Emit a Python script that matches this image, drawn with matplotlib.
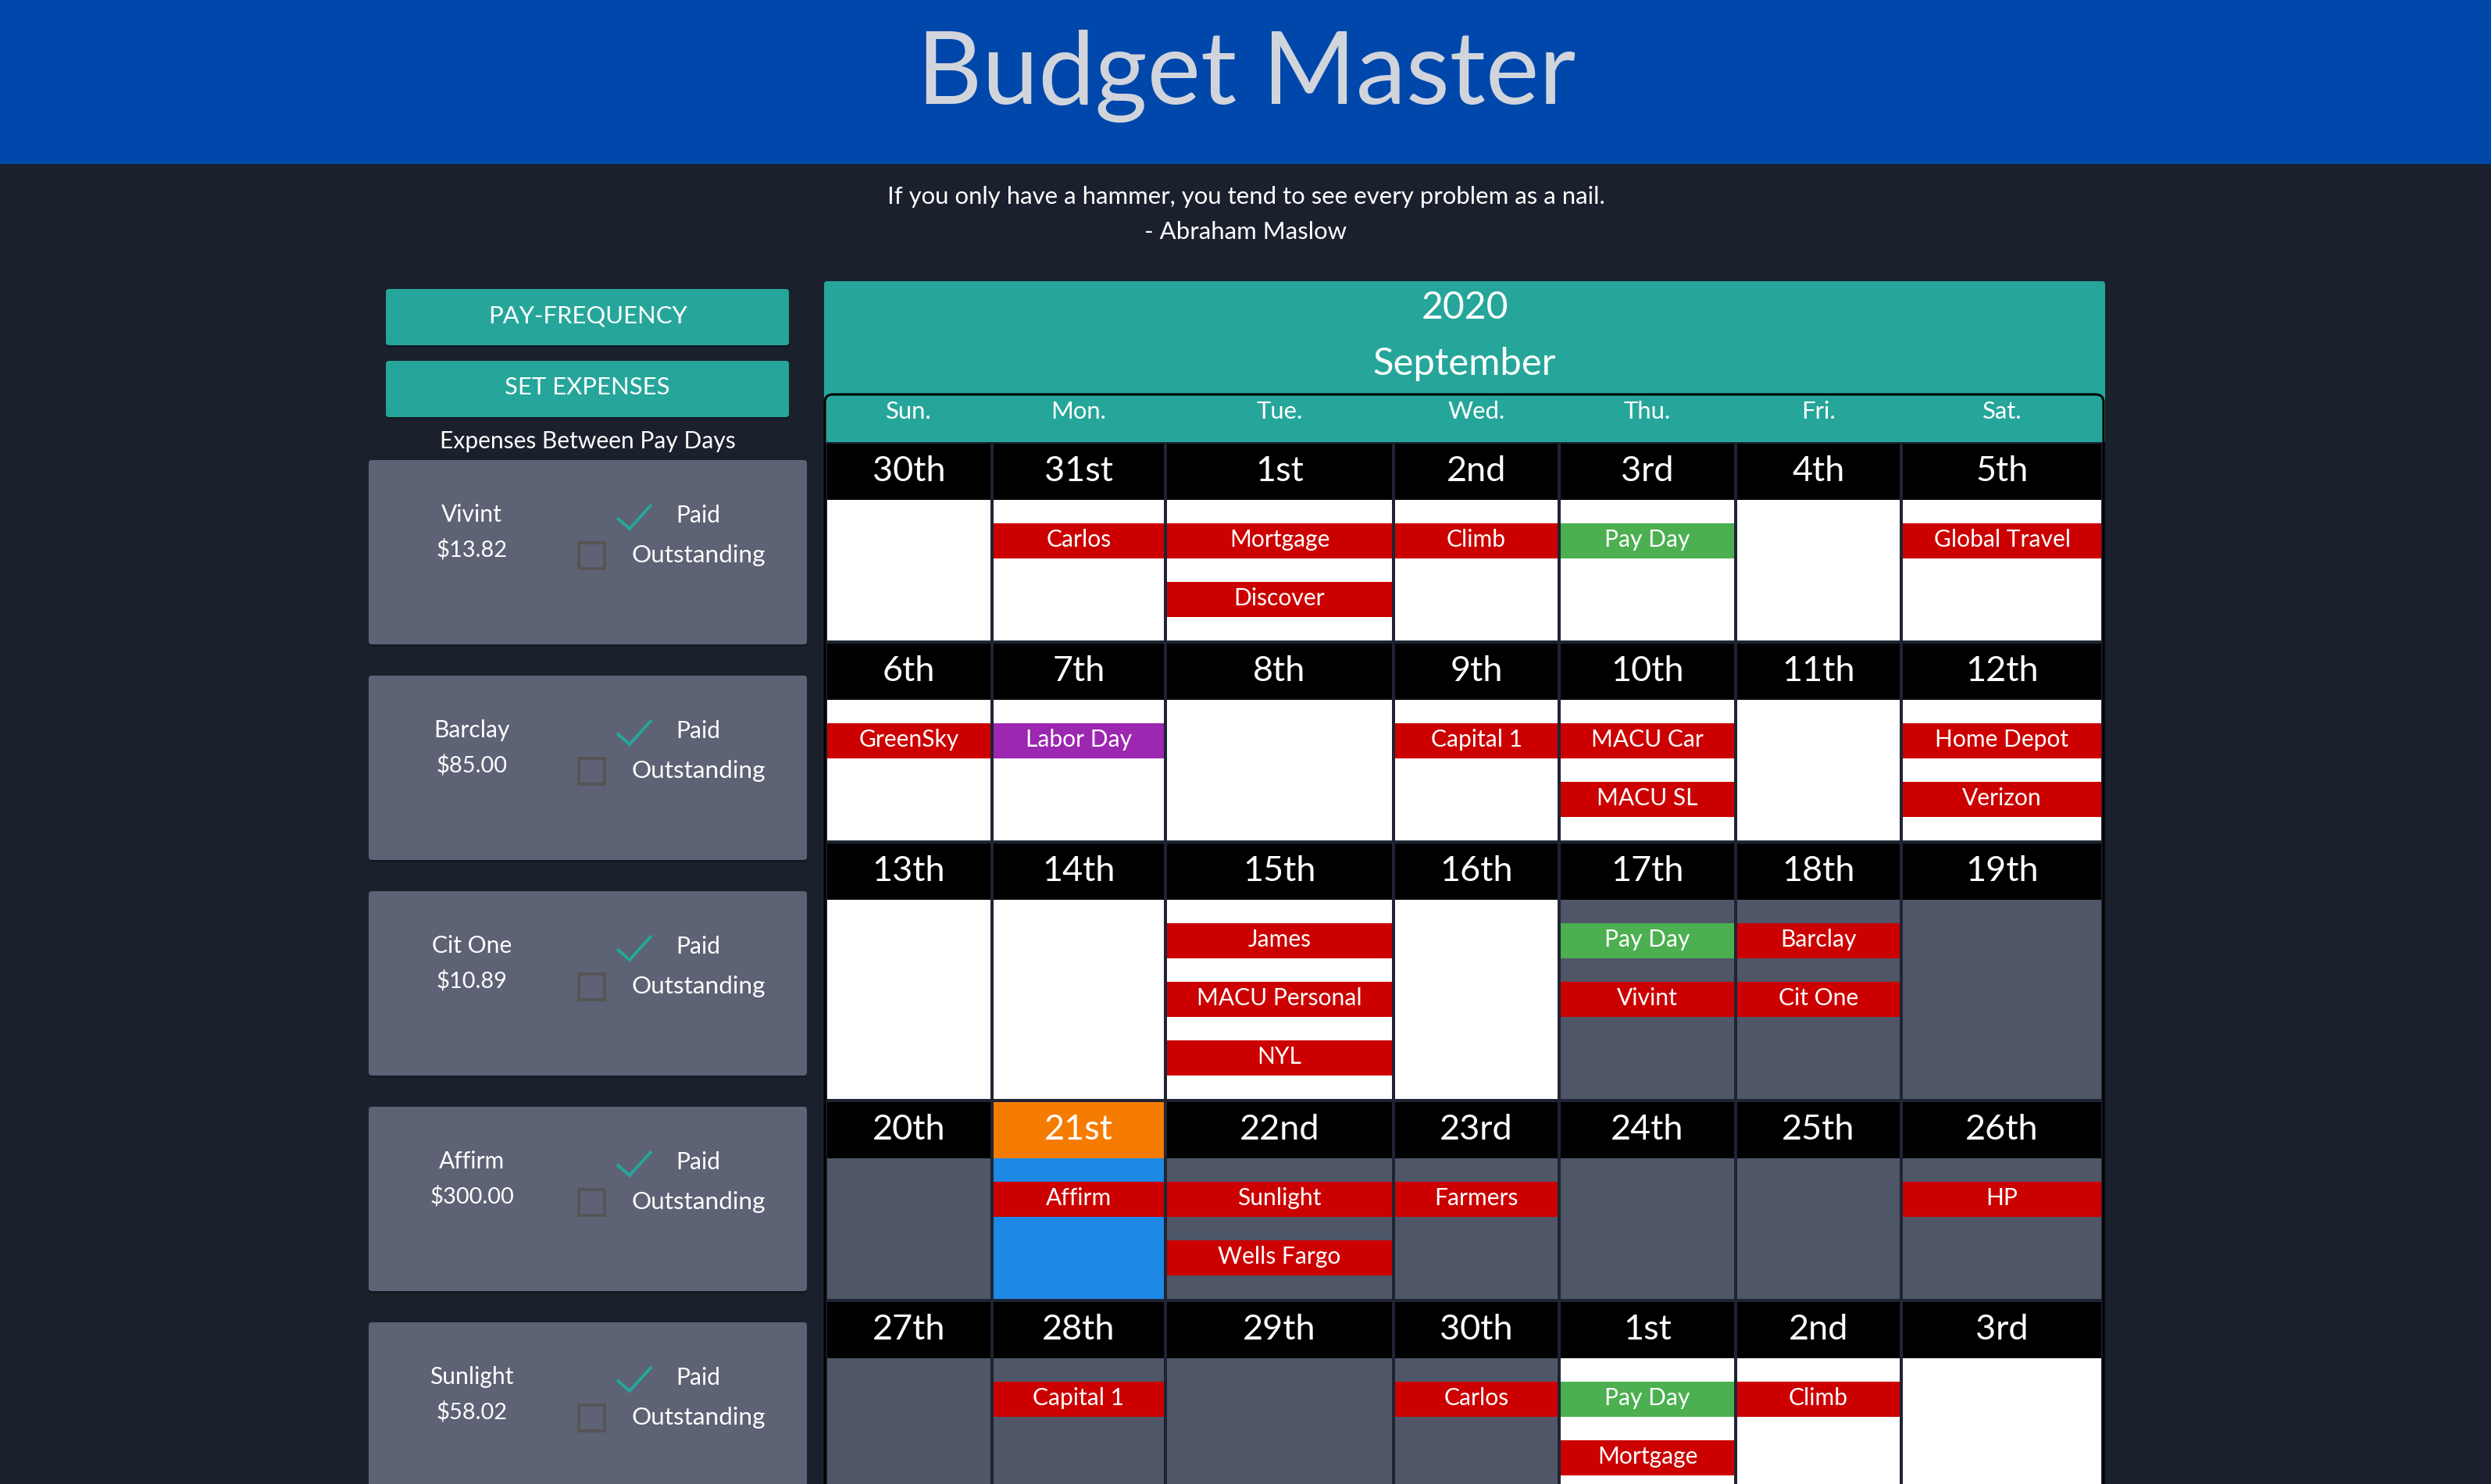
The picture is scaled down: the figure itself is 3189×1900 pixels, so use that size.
# budget master calendar page
import matplotlib
matplotlib.use("Agg")
import matplotlib.pyplot as plt
import matplotlib.patches as mpatches

plt.rcParams["font.family"] = ["Lato", "DejaVu Sans"]

W, H = 3189, 1900
PX = 72 / 100  # css px at dpi 100 to font points

# chart data
year = "2020"
month = "September"
quote = "If you only have a hammer, you tend to see every problem as a nail."
quote_by = "- Abraham Maslow"
buttons = ["PAY-FREQUENCY", "SET EXPENSES"]
weekdays = ["Sun.", "Mon.", "Tue.", "Wed.", "Thu.", "Fri.", "Sat."]

day_labels = [
    ["30th", "31st", "1st", "2nd", "3rd", "4th", "5th"],
    ["6th", "7th", "8th", "9th", "10th", "11th", "12th"],
    ["13th", "14th", "15th", "16th", "17th", "18th", "19th"],
    ["20th", "21st", "22nd", "23rd", "24th", "25th", "26th"],
    ["27th", "28th", "29th", "30th", "1st", "2nd", "3rd"],
]
# w = in pay period, g = outside, t = today
cell_states = ["wwwwwww", "wwwwwww", "wwwwggg", "gtggggg", "ggggwww"]
events = [
    [[], ["Carlos"], ["Mortgage", "Discover"], ["Climb"], ["Pay Day"], [], ["Global Travel"]],
    [["GreenSky"], ["Labor Day"], [], ["Capital 1"], ["MACU Car", "MACU SL"], [], ["Home Depot", "Verizon"]],
    [[], [], ["James", "MACU Personal", "NYL"], [], ["Pay Day", "Vivint"], ["Barclay", "Cit One"], []],
    [[], ["Affirm"], ["Sunlight", "Wells Fargo"], ["Farmers"], [], [], ["HP"]],
    [[], ["Capital 1"], [], ["Carlos"], ["Pay Day", "Mortgage"], ["Climb"], []],
]
expense_names = ["Vivint", "Barclay", "Cit One", "Affirm", "Sunlight"]
expense_amounts = ["$13.82", "$85.00", "$10.89", "$300.00", "$58.02"]

# layout, in image pixels
col_left = [1059, 1272, 1494, 1786, 1998, 2224, 2436]
col_right = [1268, 1490, 1782, 1994, 2220, 2432, 2690]
row_top = [568, 824, 1080, 1411, 1667]
row_body = [180, 180, 255, 180, 255]
card_top = [589, 865, 1141, 1417, 1693]

BG = "#1a202c"
TEAL = "#26a69a"
RED = "#cc0000"
GREEN = "#4caf50"
PURPLE = "#9c27b0"
GREY_CELL = "#4f5668"
CARD = "#5d6275"
BODY_COLORS = {"w": "#ffffff", "g": GREY_CELL, "t": "#1e88e5"}

fig = plt.figure(figsize=(W / 100, H / 100), dpi=100, facecolor=BG)
ax = fig.add_axes([0, 0, 1, 1])
ax.set_xlim(0, W)
ax.set_ylim(H, 0)
ax.axis("off")


def box(x0, y0, x1, y1, color, z=1):
    ax.add_patch(mpatches.Rectangle((x0, y0), x1 - x0, y1 - y0, facecolor=color, edgecolor="none", zorder=z))


def round_box(x0, y0, x1, y1, color, z=1, r=4):
    ax.add_patch(mpatches.FancyBboxPatch((x0 + r, y0 + r), x1 - x0 - 2 * r, y1 - y0 - 2 * r,
                                         boxstyle=f"round,pad={r},rounding_size={r}",
                                         facecolor=color, edgecolor="none", zorder=z))


def label(x, y, s, size, color="white", **kw):
    # y is the text baseline
    ax.text(x, y, s, fontsize=size * PX, color=color, ha="center", va="baseline", zorder=5, **kw)


# top bar
box(0, 0, W, 210, "#0047ab")
label(1596, 133, "Budget Master", 129, color="#d1d5db")
label(1595, 261, quote, 31.2)
label(1595, 306, quote_by, 31.2)

# left column
for y, text in zip([370, 462], buttons):
    round_box(494, y + 3, 1010, y + 75, "#141923", z=1)
    round_box(494, y, 1010, y + 72, TEAL, z=2)
    label(752, y + 43, text, 31)
label(752, 574, "Expenses Between Pay Days", 30)

for top, name, amount in zip(card_top, expense_names, expense_amounts):
    round_box(472, top + 2, 1033, top + 239, "#141923", z=1)
    round_box(472, top, 1033, top + 236, CARD, z=2)
    label(604, top + 79, name, 30)
    label(604, top + 124, amount, 29)
    label(894, top + 80, "Paid", 30)
    label(894, top + 131, "Outstanding", 31.5)
    ax.plot([790, 806, 834], [top + 74, top + 88, top + 57], color=TEAL, lw=4 * PX,
            solid_joinstyle="miter", solid_capstyle="butt", zorder=4)
    ax.add_patch(mpatches.Rectangle((741, top + 106), 33, 33, facecolor="none", edgecolor="#555555",
                                    lw=4 * PX, zorder=4))

# calendar header
round_box(1055, 360, 2695, 568, TEAL, z=1)
label(1875, 408, year, 48)
label(1875, 480, month, 49)
ax.add_patch(mpatches.FancyBboxPatch((1066, 515), 1617, 1500,
                                     boxstyle="round,pad=10,rounding_size=10",
                                     facecolor="none", edgecolor="black", lw=3 * PX, zorder=3))
box(1058, 566, 2692, H, "#1e2433", z=2)
for x0, x1, day in zip(col_left, col_right, weekdays):
    label((x0 + x1) / 2, 536, day, 31)

# calendar cells
for r, top in enumerate(row_top):
    for c, (x0, x1) in enumerate(zip(col_left, col_right)):
        state = cell_states[r][c]
        head = "#f57c00" if state == "t" else "black"
        box(x0, top, x1, top + 72, head, z=3)
        label((x0 + x1) / 2, top + 48, day_labels[r][c], 45)
        body = top + 72
        box(x0, body, x1, body + row_body[r], BODY_COLORS[state], z=3)
        for i, name in enumerate(events[r][c]):
            ev_y = body + 30 + i * 75
            color = GREEN if name == "Pay Day" else PURPLE if name == "Labor Day" else RED
            box(x0, ev_y, x1, ev_y + 45, color, z=4)
            label((x0 + x1) / 2, ev_y + 30, name, 30)

fig.savefig("out.png", dpi=100, facecolor=BG)
plt.close(fig)
